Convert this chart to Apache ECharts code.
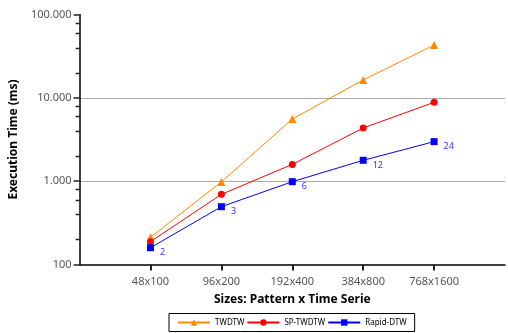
<!DOCTYPE html>
<html><head><meta charset="utf-8">
<script src="https://cdn.jsdelivr.net/npm/echarts@6/dist/echarts.min.js"></script>
<style>html,body{margin:0;padding:0;background:#fff}#c{width:508px;height:333px}</style>
</head><body><div id="c"></div>
<script>
var categories = ['48x100', '96x200', '192x400', '384x800', '768x1600'];
var twdtw = [212, 980, 5570, 16400, 43000];
var spTwdtw = [188, 695, 1590, 4350, 8830];
var rapidDtw = [159, 494, 986, 1780, 2980];
var speedups = [2, 3, 6, 12, 24];
var yTicks = [100, 1000, 10000, 100000];
var yMinorTicks = [200, 400, 600, 800, 2000, 4000, 6000, 8000, 20000, 40000, 60000, 80000];

var FONT = 'Noto Sans';
var axisCats = [''].concat(categories, ['']);
function pairs(arr){ return categories.map(function(c,i){ return [c, arr[i]]; }); }
function fmt(v){ return String(Math.round(v)).replace(/\B(?=(\d{3})+(?!\d))/g, '.'); }

var chart = echarts.init(document.getElementById('c'), null, {renderer:'canvas'});
chart.setOption({
  animation: false,
  textStyle: {fontFamily: FONT},
  grid: {left: 78, right: 1, top: 14.5, bottom: 68.5, containLabel: false},
  xAxis: {
    type: 'category', data: axisCats, boundaryGap: false,
    name: 'Sizes: Pattern x Time Serie', nameLocation: 'middle', nameGap: 29,
    nameTextStyle: {fontFamily: FONT, fontWeight: 'bold', fontSize: 12, color: '#000'},
    axisLine: {lineStyle: {color: '#000', width: 1.5}},
    axisTick: {show: true, length: 6, lineStyle: {color: '#222', width: 2}, interval: function(i, v){ return v !== ''; }},
    axisLabel: {interval: 0, color: '#555', fontSize: 11, margin: 12, fontFamily: FONT},
    splitLine: {show: false}
  },
  yAxis: {
    type: 'log', logBase: 10, min: yTicks[0], max: yTicks[yTicks.length-1],
    name: 'Execution Time (ms)', nameLocation: 'middle', nameGap: 57,
    nameTextStyle: {fontFamily: FONT, fontWeight: 'bold', fontSize: 12, color: '#000'},
    axisLine: {show: true, lineStyle: {color: '#000', width: 1.5}},
    axisTick: {show: true, length: 6, lineStyle: {color: '#222', width: 1.5}},
    axisLabel: {color: '#555', fontSize: 11, margin: 8, fontFamily: FONT, formatter: fmt},
    splitLine: {show: true, showMaxLine: false, showMinLine: false, lineStyle: {color: '#aaa', width: 1}}
  },
  legend: {
    bottom: 1.5, left: 169, itemWidth: 32, itemHeight: 8, itemGap: 2,
    padding: [5, 8, 5, 8], borderColor: '#000', borderWidth: 1,
    textStyle: {fontSize: 8, color: '#000', fontFamily: FONT},
    data: ['TWDTW', 'SP-TWDTW', 'Rapid-DTW']
  },
  series: [{
    name: 'TWDTW', type: 'line', data: pairs(twdtw),
    symbol: 'triangle', symbolSize: 8, color: '#ff8800',
    lineStyle: {width: 1}
  }, {
    name: 'SP-TWDTW', type: 'line', data: pairs(spTwdtw),
    symbol: 'circle', symbolSize: 7, color: '#ff0000',
    lineStyle: {width: 1}
  }, {
    name: 'Rapid-DTW', type: 'line', data: pairs(rapidDtw),
    symbol: 'rect', symbolSize: 7, color: '#0000ff',
    lineStyle: {width: 1},
    label: {show: true, position: 'right', distance: 3, offset: [3, 5], color: '#3333ff', fontSize: 9,
      formatter: function(p){ return String(speedups[p.dataIndex]); }}
  }, {
    name: 'minorTicks', type: 'custom', silent: true, clip: false, z: 10,
    encode: {x: 0, y: 1},
    data: yMinorTicks.map(function(v){ return [0, v]; }),
    renderItem: function(params, api){
      var p = api.coord([api.value(0), api.value(1)]);
      var y = Math.round(p[1]) + 0.5;
      return {type: 'line', shape: {x1: p[0] - 4, y1: y, x2: p[0] + 1, y2: y},
        style: {stroke: '#222', lineWidth: 1.5}};
    }
  }]
});
</script></body></html>
